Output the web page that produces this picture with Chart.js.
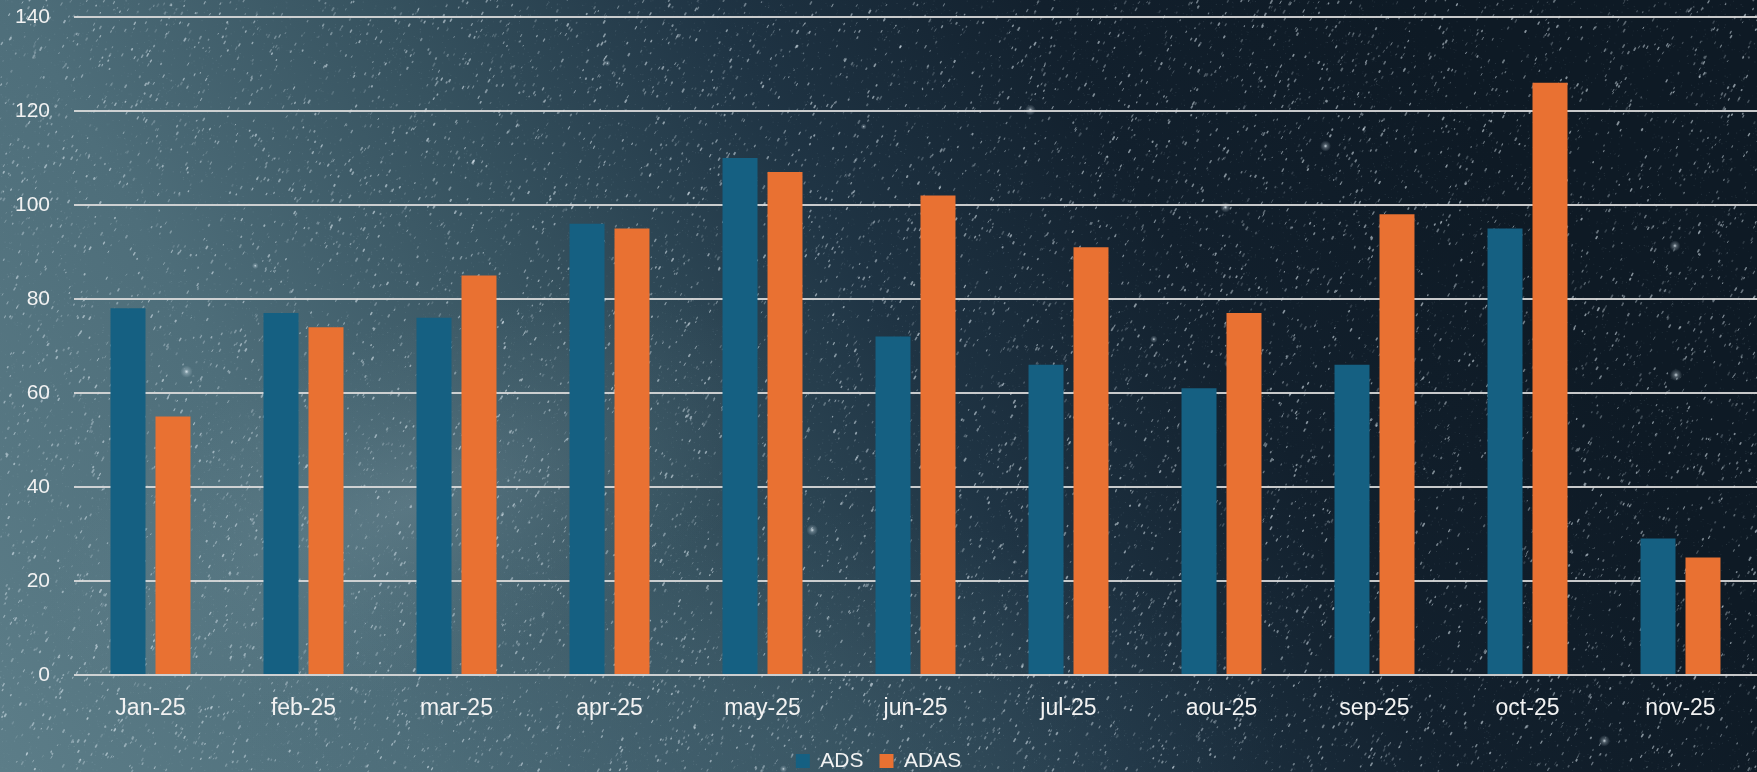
<!DOCTYPE html>
<html>
<head>
<meta charset="utf-8">
<title>ADS / ADAS</title>
<script src="https://cdn.jsdelivr.net/npm/chart.js@4.4.1/dist/chart.umd.min.js"></script>
<style>
  html, body { margin: 0; padding: 0; background: #16242f; overflow: hidden; }
  #wrap { position: relative; width: 1757px; height: 772px; }
  #sky, #chart { position: absolute; left: 0; top: 0; }
</style>
</head>
<body>
<div id="wrap">
  <canvas id="sky" width="1757" height="772"></canvas>
  <canvas id="chart" width="1757" height="772"></canvas>
</div>
<script>
// Monthly counts
const months = ['Jan-25', 'feb-25', 'mar-25', 'apr-25', 'may-25', 'jun-25', 'jul-25', 'aou-25', 'sep-25', 'oct-25', 'nov-25'];
const adsValues  = [78, 77, 76, 96, 110, 72, 66, 61, 66, 95, 29];
const adasValues = [55, 74, 85, 95, 107, 102, 91, 77, 98, 126, 25];
const yTicks = [0, 20, 40, 60, 80, 100, 120, 140];

// ---- starry backdrop ----
(function paintSky() {
  const c = document.getElementById('sky');
  const ctx = c.getContext('2d');
  const W = c.width, H = c.height;

  // diagonal wash: pale slate at lower left, deep navy at upper right
  const g = ctx.createLinearGradient(0, H, W * 0.8, 0);
  g.addColorStop(0.00, '#5c7d88');
  g.addColorStop(0.24, '#4e6e7a');
  g.addColorStop(0.44, '#36525f');
  g.addColorStop(0.62, '#1f3444');
  g.addColorStop(0.80, '#12202d');
  g.addColorStop(1.00, '#0e1a25');
  ctx.fillStyle = g;
  ctx.fillRect(0, 0, W, H);

  // lift the lower middle a little
  ctx.save();
  ctx.translate(760, 740);
  ctx.scale(1.6, 0.7);
  const low = ctx.createRadialGradient(0, 0, 5, 0, 0, 330);
  low.addColorStop(0, 'rgba(70,100,115,0.35)');
  low.addColorStop(1, 'rgba(70,100,115,0)');
  ctx.fillStyle = low;
  ctx.fillRect(-400, -400, 800, 800);
  ctx.restore();

  // milky haze low on the left, stretched along a diagonal band
  ctx.save();
  ctx.translate(420, 500);
  ctx.rotate(-0.35);
  ctx.scale(1.8, 0.8);
  const haze = ctx.createRadialGradient(0, 0, 5, 0, 0, 220);
  haze.addColorStop(0, 'rgba(150,175,185,0.24)');
  haze.addColorStop(0.55, 'rgba(120,150,160,0.11)');
  haze.addColorStop(1, 'rgba(120,150,160,0)');
  ctx.fillStyle = haze;
  ctx.fillRect(-300, -300, 600, 600);
  ctx.restore();

  // deterministic generator for the star field
  let s = 1234567;
  const rnd = () => {
    s |= 0; s = s + 0x6D2B79F5 | 0;
    let t = Math.imul(s ^ s >>> 15, 1 | s);
    t = t + Math.imul(t ^ t >>> 7, 61 | t) ^ t;
    return ((t ^ t >>> 14) >>> 0) / 4294967296;
  };

  // fine grain
  for (let i = 0; i < 24000; i++) {
    const x = rnd() * W, y = rnd() * H;
    ctx.fillStyle = 'rgba(200,220,230,' + (0.04 + rnd() * 0.12).toFixed(3) + ')';
    ctx.fillRect(x, y, 1, 1);
  }

  // small smeared stars
  ctx.lineCap = 'round';
  for (let i = 0; i < 11000; i++) {
    const x = rnd() * W, y = rnd() * H;
    const len = 0.6 + rnd() * 2.2;
    const a = 0.15 + rnd() * 0.45;
    ctx.strokeStyle = 'rgba(220,232,240,' + a.toFixed(3) + ')';
    ctx.lineWidth = 0.8 + rnd() * 1.1;
    ctx.beginPath();
    ctx.moveTo(x, y);
    ctx.lineTo(x + len * 0.5, y - len * 0.87);
    ctx.stroke();
  }

  // a few brighter stars with a soft glow
  for (let i = 0; i < 16; i++) {
    const x = rnd() * W, y = rnd() * H;
    const r = 1 + rnd() * 1.2;
    const glow = ctx.createRadialGradient(x, y, 0, x, y, r * 3);
    glow.addColorStop(0, 'rgba(235,245,250,0.85)');
    glow.addColorStop(0.35, 'rgba(220,235,245,0.3)');
    glow.addColorStop(1, 'rgba(220,235,245,0)');
    ctx.fillStyle = glow;
    ctx.beginPath();
    ctx.arc(x, y, r * 3, 0, Math.PI * 2);
    ctx.fill();
  }
})();

// ---- chart ----
const white = '#f2f2f2';
const sans = '"Liberation Sans", Arial, sans-serif';
new Chart(document.getElementById('chart'), {
  type: 'bar',
  data: {
    labels: months,
    datasets: [
      { label: 'ADS',  data: adsValues,  backgroundColor: '#156082', borderWidth: 0 },
      { label: 'ADAS', data: adasValues, backgroundColor: '#E97132', borderWidth: 0 }
    ]
  },
  options: {
    responsive: false,
    animation: false,
    devicePixelRatio: 1,
    categoryPercentage: 0.588,
    barPercentage: 0.778,
    layout: { padding: { top: 0, right: 0, bottom: -9.5, left: 0 } },
    plugins: {
      tooltip: { enabled: false },
      legend: {
        position: 'bottom',
        labels: {
          color: white,
          boxWidth: 14,
          boxHeight: 14,
          padding: 16,
          font: { family: sans, size: 21 }
        }
      }
    },
    scales: {
      x: {
        grid: { display: false },
        border: { display: false },
        ticks: {
          color: white,
          padding: 12,
          font: { family: sans, size: 23 }
        }
      },
      y: {
        min: 0,
        max: 140,
        afterBuildTicks: (axis) => { axis.ticks = yTicks.map(v => ({ value: v })); },
        afterFit: (axis) => { axis.width = 74; axis.paddingTop = 17; axis.paddingBottom = 0; },
        grid: { color: 'rgba(220,220,220,0.9)', lineWidth: 2, drawTicks: false },
        border: { display: false },
        ticks: {
          color: white,
          padding: 24,
          font: { family: sans, size: 21 }
        }
      }
    }
  }
});
</script>
</body>
</html>
